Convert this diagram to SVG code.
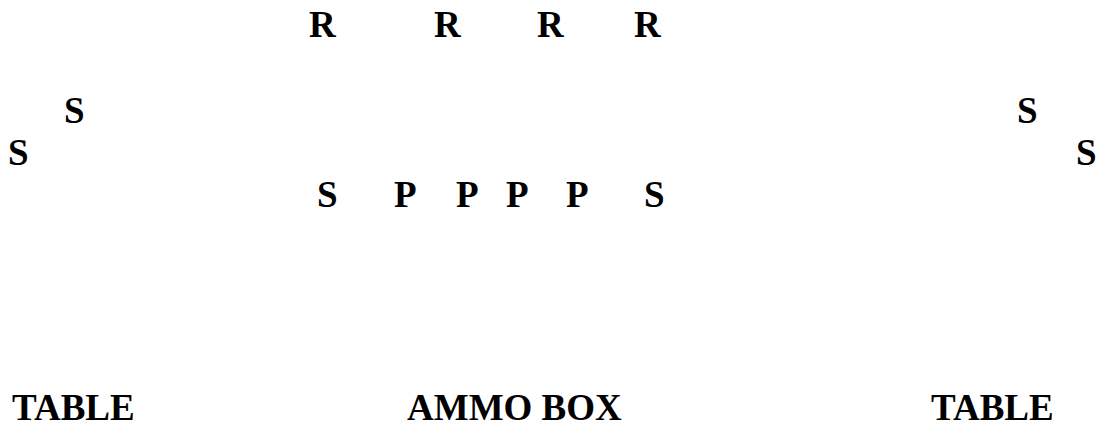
<svg xmlns="http://www.w3.org/2000/svg" width="1102" height="426" viewBox="0 0 1102 426">
<style>
text{font-family:"Liberation Serif","Times New Roman",serif;font-weight:bold;font-size:37px;fill:#000}
</style>
<rect width="1102" height="426" fill="#fff"/>
<g id="rows">
<text x="309" y="37">R</text>
<text x="434" y="37">R</text>
<text x="537" y="37">R</text>
<text x="634" y="37">R</text>
</g>
<g id="left-s">
<text x="64" y="123">S</text>
<text x="8" y="165">S</text>
</g>
<g id="right-s">
<text x="1017" y="123">S</text>
<text x="1076" y="165">S</text>
</g>
<g id="front">
<text x="317" y="207">S</text>
<text x="394" y="207">P</text>
<text x="456" y="207">P</text>
<text x="506" y="207">P</text>
<text x="566" y="207">P</text>
<text x="644" y="207">S</text>
</g>
<g id="furniture">
<text x="12" y="420">TABLE</text>
<text x="407" y="420">AMMO BOX</text>
<text x="931" y="420">TABLE</text>
</g>
<g id="connectors"/>
</svg>
